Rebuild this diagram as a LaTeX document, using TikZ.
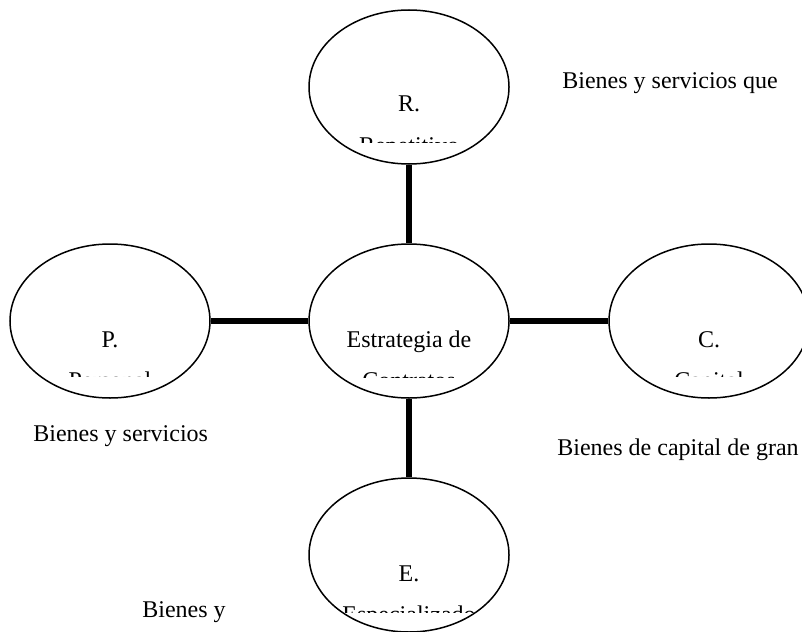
\documentclass[tikz,border=0pt]{standalone}
\usepackage{fontspec}
\setmainfont{Liberation Serif}
\usetikzlibrary{shapes.geometric}
\begin{document}
\begin{tikzpicture}[x=0.5pt,y=-0.5pt,
  oval/.style={draw,line width=0.75pt,ellipse,minimum width=100pt,minimum height=77pt,inner sep=0pt},
  conn/.style={line width=2.6pt},
  lbl/.style={font=\fontsize{12pt}{14pt}\selectfont,inner sep=0pt,anchor=base},
  side/.style={font=\fontsize{12pt}{14pt}\selectfont,inner sep=0pt,anchor=base west}]
\useasboundingbox (0,0) rectangle (802,631);
% ellipses
\node[oval] (R) at (409,87) {};
\node[oval] (P) at (110,321) {};
\node[oval] (S) at (409,321) {};
\node[oval] (C) at (709,321) {};
\node[oval] (E) at (409,555) {};
% connectors
\draw[conn] (R) -- (S);
\draw[conn] (P) -- (S);
\draw[conn] (S) -- (C);
\draw[conn] (S) -- (E);
% clipped texts
\begin{scope}
\clip (300,0) rectangle (520,142);
\node[lbl] (Rt1) at (409,112) {R.};
\node[lbl] (Rt2) at (409,153) {Repetitivo};
\end{scope}
\begin{scope}
\clip (0,240) rectangle (220,376);
\node[lbl] (Pt1) at (110,347) {P.};
\node[lbl] (Pt2) at (110,388) {Personal};
\end{scope}
\begin{scope}
\clip (300,240) rectangle (520,377);
\node[lbl] (St1) at (409,347) {Estrategia de};
\node[lbl] (St2) at (409,388) {Contratos};
\end{scope}
\begin{scope}
\clip (600,240) rectangle (802,376);
\node[lbl] (Ct1) at (709,347) {C.};
\node[lbl] (Ct2) at (709,388) {Capital};
\end{scope}
\begin{scope}
\clip (300,480) rectangle (520,612);
\node[lbl] (Et1) at (409,581) {E.};
\node[lbl] (Et2) at (409,622) {Especializado};
\end{scope}
% side texts
\node[side] (T1) at (562,89) {Bienes y servicios que};
\node[side] (T2) at (33,441) {Bienes y servicios};
\node[side] (T3) at (557,455) {Bienes de capital de gran};
\node[side] (T4) at (142,617) {Bienes y};
\end{tikzpicture}
\end{document}
